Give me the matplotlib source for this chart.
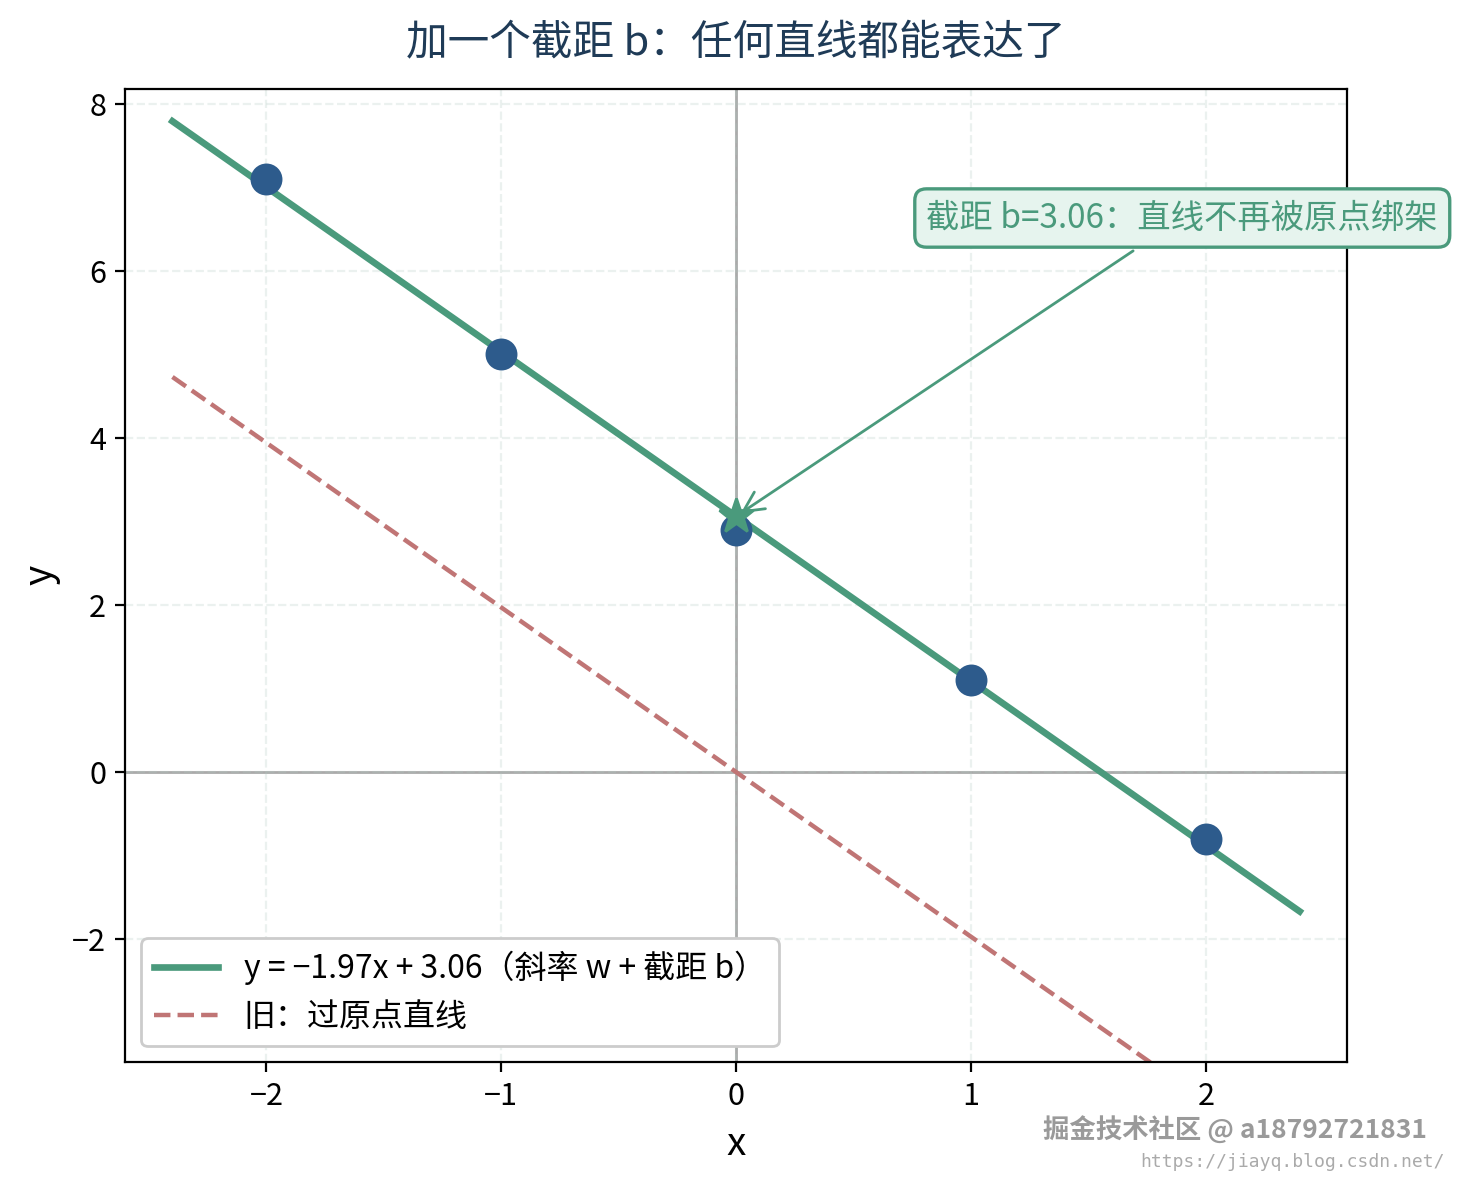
import numpy as np
import matplotlib
matplotlib.use('Agg')
import matplotlib.pyplot as plt

plt.rcParams['font.family'] = ['Noto Sans CJK SC', 'DejaVu Sans']
plt.rcParams['axes.unicode_minus'] = True

# 数据
x_pts = [-2, -1, 0, 1, 2]
y_pts = [7.1, 5.0, 2.9, 1.1, -0.8]
w_fit = -1.97
b_fit = 3.06
x_line = [-2.4, 2.4]

GREEN = '#4a9a7c'
BLUE = '#2d5b8c'
RED = '#c07575'

fig, ax = plt.subplots(figsize=(7.295, 5.9), dpi=200)

xl = np.array(x_line)
ax.plot(xl, w_fit * xl + b_fit, color=GREEN, linewidth=2.4,
        label=f'y = \u2212{abs(w_fit):.2f}x + {b_fit:.2f}（斜率 w + 截距 b）', zorder=3)
ax.plot(xl, w_fit * xl, '--', color=RED, linewidth=1.6,
        label='旧：过原点直线', zorder=2)
ax.scatter(x_pts, y_pts, s=110, color=BLUE, zorder=4)
ax.plot([0], [b_fit], marker='*', markersize=13, color=GREEN, zorder=5)

ax.axhline(0, color='#aaaaaa', linewidth=1.0, zorder=1)
ax.axvline(0, color='#aaaaaa', linewidth=1.0, zorder=1)
ax.grid(True, linestyle='--', alpha=0.25, color='#b0c8c0')

ax.annotate(f'截距 b={b_fit:.2f}：直线不再被原点绑架',
            xy=(0, b_fit), xytext=(1.9, 6.63),
            ha='center', va='center', fontsize=12, color=GREEN,
            bbox=dict(boxstyle='round,pad=0.35', facecolor='#e6f4ee', edgecolor=GREEN, linewidth=1.2),
            arrowprops=dict(arrowstyle='->', color=GREEN, linewidth=1.0, mutation_scale=18),
            zorder=6)

ax.set_xlim(-2.6, 2.6)
ax.set_ylim(-3.47, 8.18)
ax.set_xticks([-2, -1, 0, 1, 2])
ax.set_yticks([-2, 0, 2, 4, 6, 8])
ax.tick_params(labelsize=11)
ax.set_xlabel('x', fontsize=14)
ax.set_ylabel('y', fontsize=14)
ax.set_title('加一个截距 b：任何直线都能表达了', fontsize=15, color='#1f3b57', pad=12)

ax.legend(loc='lower left', fontsize=11.5, frameon=True, framealpha=1.0, edgecolor='#cccccc')

fig.subplots_adjust(left=0.086, right=0.923, top=0.925, bottom=0.1)

# 水印
fig.text(0.978, 0.03, '掘金技术社区 @ a18792721831', ha='right', va='bottom',
         fontsize=9.5, color='#888888', alpha=0.85, fontweight='bold')
fig.text(0.99, 0.008, 'https://jiayq.blog.csdn.net/', ha='right', va='bottom',
         fontsize=6.5, color='#aaaaaa', family='DejaVu Sans Mono')

plt.savefig('out.png', dpi=200)
